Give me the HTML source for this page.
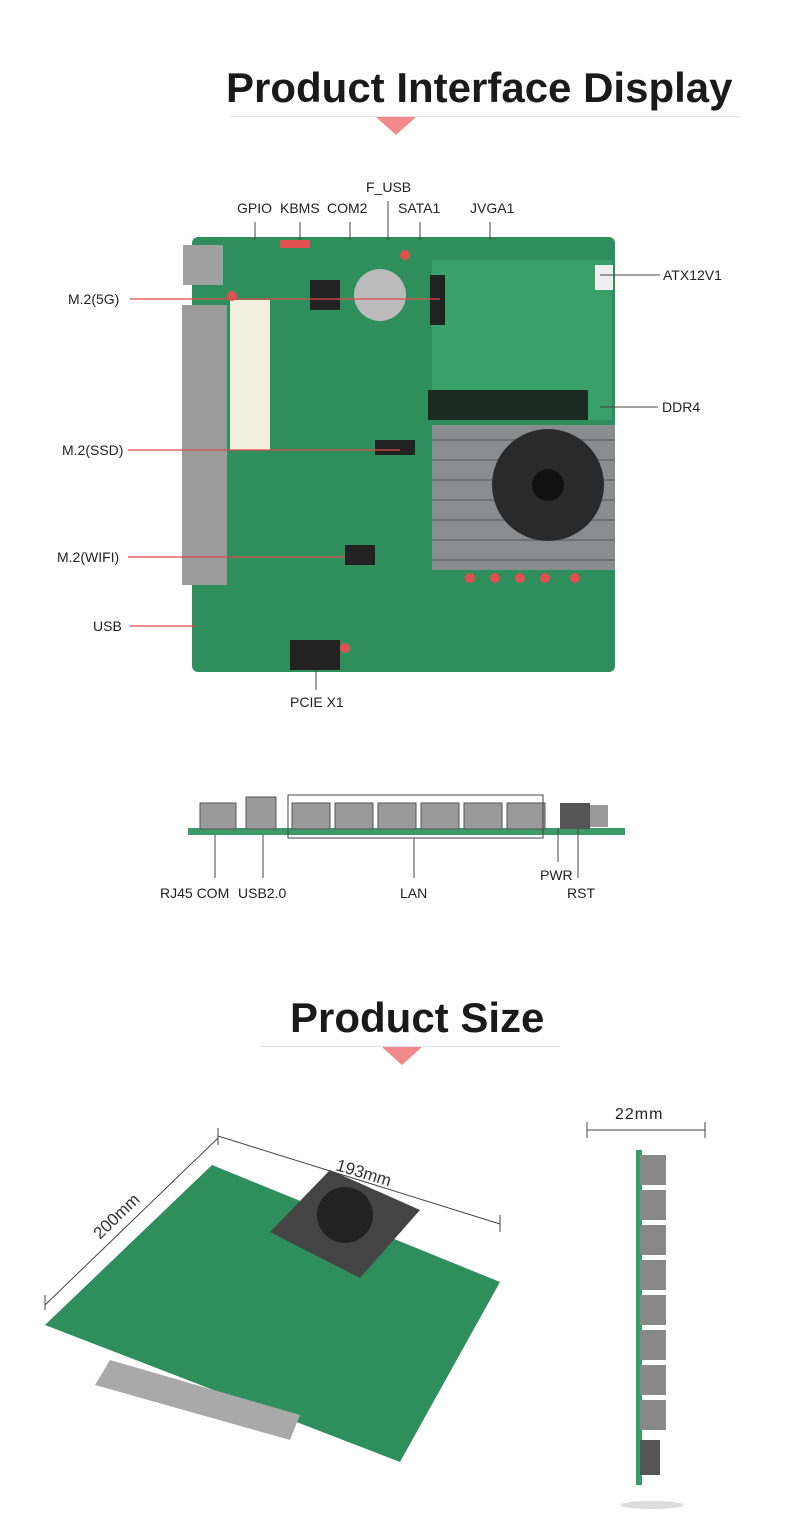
<!DOCTYPE html>
<html><head><meta charset="utf-8"><style>
body{margin:0;background:#fff;width:790px;height:1539px;position:relative;overflow:hidden;font-family:"Liberation Sans",sans-serif}
.a{position:absolute}
.t{position:absolute;font-size:14px;color:#222;white-space:nowrap}
.h{position:absolute;font-weight:bold;font-size:42px;color:#1a1a1a;white-space:nowrap}
</style></head><body>
<div class="h" style="left:226px;top:64px">Product Interface Display</div>
<div class="a" style="left:230px;top:116px;width:510px;height:1px;background:#e4e4e4"></div>
<div class="a" style="left:376px;top:117px;width:0;height:0;border-left:20px solid transparent;border-right:20px solid transparent;border-top:18px solid #f08a8a"></div>

<svg class="a" style="left:0;top:0" width="790" height="1539">
<!-- top board -->
<rect x="192" y="237" width="423" height="435" rx="6" fill="#2f8f5c"/>
<rect x="432" y="260" width="180" height="160" fill="#3aa06a"/>
<rect x="428" y="390" width="160" height="30" fill="#1c2a22"/>
<rect x="432" y="425" width="183" height="145" fill="#8a8d8f"/>
<g stroke="#6f7274" stroke-width="2"><line x1="432" y1="440" x2="615" y2="440"/><line x1="432" y1="460" x2="615" y2="460"/><line x1="432" y1="480" x2="615" y2="480"/><line x1="432" y1="500" x2="615" y2="500"/><line x1="432" y1="520" x2="615" y2="520"/><line x1="432" y1="540" x2="615" y2="540"/><line x1="432" y1="560" x2="615" y2="560"/></g>
<circle cx="548" cy="485" r="56" fill="#2a2a2a"/><circle cx="548" cy="485" r="16" fill="#111"/>
<rect x="183" y="245" width="40" height="40" fill="#a0a0a0"/>
<rect x="182" y="305" width="45" height="280" fill="#9b9b9b"/>
<rect x="230" y="300" width="40" height="150" fill="#f2efe0"/>
<circle cx="380" cy="295" r="26" fill="#bbb"/>
<rect x="290" y="640" width="50" height="30" fill="#222"/>
<rect x="310" y="280" width="30" height="30" fill="#222"/>
<rect x="345" y="545" width="30" height="20" fill="#222"/>
<rect x="375" y="440" width="40" height="15" fill="#222"/>
<rect x="430" y="275" width="15" height="50" fill="#222"/>
<rect x="595" y="265" width="18" height="25" fill="#eee"/>
<g fill="#e05050"><circle cx="470" cy="578" r="5"/><circle cx="495" cy="578" r="5"/><circle cx="520" cy="578" r="5"/><circle cx="545" cy="578" r="5"/><circle cx="575" cy="578" r="5"/><circle cx="232" cy="296" r="5"/><circle cx="345" cy="648" r="5"/><circle cx="405" cy="255" r="5"/><rect x="280" y="240" width="30" height="8"/></g>
<!-- label lines -->
<g stroke="#e04848" stroke-width="1.3">
<line x1="130" y1="299" x2="440" y2="299"/><line x1="128" y1="450" x2="400" y2="450"/><line x1="128" y1="557" x2="345" y2="557"/><line x1="130" y1="626" x2="195" y2="626"/>
</g>
<g stroke="#444" stroke-width="1">
<line x1="255" y1="222" x2="255" y2="240"/><line x1="300" y1="222" x2="300" y2="240"/><line x1="350" y1="222" x2="350" y2="240"/><line x1="388" y1="201" x2="388" y2="240"/><line x1="420" y1="222" x2="420" y2="240"/><line x1="490" y1="222" x2="490" y2="240"/>
<line x1="600" y1="275" x2="660" y2="275"/><line x1="600" y1="407" x2="658" y2="407"/><line x1="316" y1="670" x2="316" y2="690"/>
</g>
<!-- side view -->
<rect x="188" y="828" width="437" height="7" fill="#3a9a68"/>
<g fill="#9a9a9a" stroke="#555"><rect x="200" y="803" width="36" height="26"/><rect x="246" y="797" width="30" height="32"/><rect x="292" y="803" width="38" height="26"/><rect x="335" y="803" width="38" height="26"/><rect x="378" y="803" width="38" height="26"/><rect x="421" y="803" width="38" height="26"/><rect x="464" y="803" width="38" height="26"/><rect x="507" y="803" width="38" height="26"/></g>
<rect x="560" y="803" width="30" height="26" fill="#555"/><rect x="590" y="805" width="18" height="22" fill="#999"/>
<rect x="288" y="795" width="255" height="43" fill="none" stroke="#444"/>
<g stroke="#444"><line x1="215" y1="835" x2="215" y2="878"/><line x1="263" y1="835" x2="263" y2="878"/><line x1="414" y1="838" x2="414" y2="878"/><line x1="558" y1="828" x2="558" y2="862"/><line x1="578" y1="828" x2="578" y2="878"/></g>
<!-- iso board -->
<polygon points="45,1325 212,1165 500,1282 400,1462" fill="#2f8f5c"/>
<polygon points="270,1232 330,1170 420,1210 360,1278" fill="#444"/>
<circle cx="345" cy="1215" r="28" fill="#222"/>
<polygon points="110,1360 300,1415 290,1440 95,1385" fill="#a9a9a9"/>
<g stroke="#444" stroke-width="1"><line x1="45" y1="1305" x2="218" y2="1138"/><line x1="45" y1="1295" x2="45" y2="1310"/><line x1="218" y1="1128" x2="218" y2="1145"/><line x1="218" y1="1136" x2="500" y2="1224"/><line x1="500" y1="1215" x2="500" y2="1232"/>
<line x1="587" y1="1130" x2="705" y2="1130"/><line x1="587" y1="1122" x2="587" y2="1138"/><line x1="705" y1="1122" x2="705" y2="1138"/></g>
<text x="0" y="0" font-family="Liberation Sans" font-size="17" fill="#333" transform="translate(100,1240) rotate(-44)">200mm</text>
<text x="0" y="0" font-family="Liberation Sans" font-size="17" fill="#333" transform="translate(335,1170) rotate(17)">193mm</text>
<!-- right side strip -->
<rect x="636" y="1150" width="6" height="335" fill="#3a9a68"/>
<g fill="#888"><rect x="640" y="1155" width="26" height="30"/><rect x="640" y="1190" width="26" height="30"/><rect x="640" y="1225" width="26" height="30"/><rect x="640" y="1260" width="26" height="30"/><rect x="640" y="1295" width="26" height="30"/><rect x="640" y="1330" width="26" height="30"/><rect x="640" y="1365" width="26" height="30"/><rect x="640" y="1400" width="26" height="30"/><rect x="640" y="1440" width="20" height="35" fill="#555"/></g>
<ellipse cx="652" cy="1505" rx="32" ry="4" fill="#ddd"/>
</svg>

<div class="t" style="left:237px;top:200px">GPIO</div>
<div class="t" style="left:280px;top:200px">KBMS</div>
<div class="t" style="left:327px;top:200px">COM2</div>
<div class="t" style="left:366px;top:179px">F_USB</div>
<div class="t" style="left:398px;top:200px">SATA1</div>
<div class="t" style="left:470px;top:200px">JVGA1</div>
<div class="t" style="left:663px;top:267px">ATX12V1</div>
<div class="t" style="left:68px;top:291px">M.2(5G)</div>
<div class="t" style="left:662px;top:399px">DDR4</div>
<div class="t" style="left:62px;top:442px">M.2(SSD)</div>
<div class="t" style="left:57px;top:549px">M.2(WIFI)</div>
<div class="t" style="left:93px;top:618px">USB</div>
<div class="t" style="left:290px;top:694px">PCIE X1</div>
<div class="t" style="left:160px;top:885px">RJ45 COM</div>
<div class="t" style="left:238px;top:885px">USB2.0</div>
<div class="t" style="left:400px;top:885px">LAN</div>
<div class="t" style="left:540px;top:867px">PWR</div>
<div class="t" style="left:567px;top:885px">RST</div>

<div class="h" style="left:290px;top:994px">Product Size</div>
<div class="a" style="left:260px;top:1046px;width:300px;height:1px;background:#e4e4e4"></div>
<div class="a" style="left:382px;top:1047px;width:0;height:0;border-left:20px solid transparent;border-right:20px solid transparent;border-top:18px solid #f08a8a"></div>
<div class="t" style="left:615px;top:1106px;font-size:16px;letter-spacing:1px">22mm</div>
</body></html>
